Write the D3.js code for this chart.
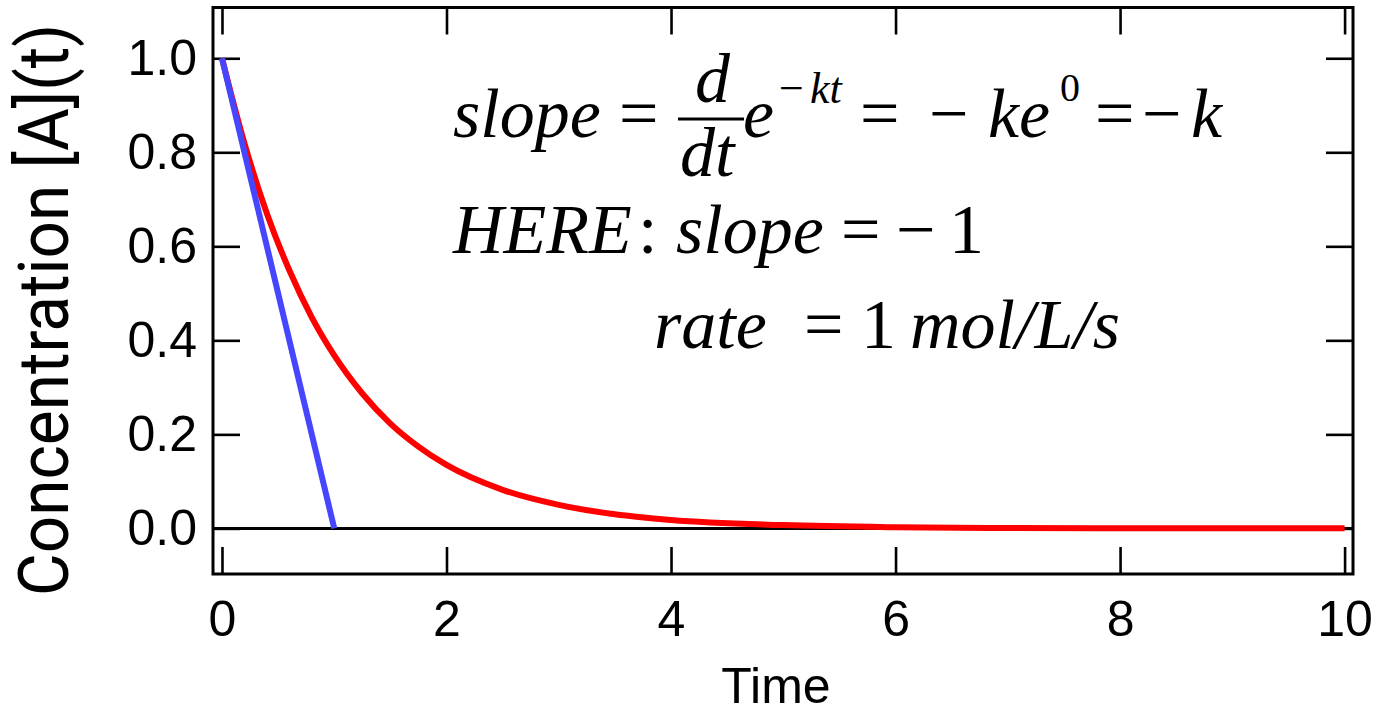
<!DOCTYPE html>
<html>

<head>
  <meta charset="utf-8">
  <script src="https://d3js.org/d3.v7.min.js"></script>
  <style>
    body {
      margin: 0;
      background: #fff;
    }

    .tick text {
      font: 50px "Liberation Sans", Arial, sans-serif;
      fill: #000;
    }

    .tick line {
      stroke: #000;
      stroke-width: 2.6px;
    }

    .eq {
      font-family: "Liberation Serif", "Times New Roman", serif;
      fill: #000;
    }
  </style>
</head>

<body>
  <div id="chart"></div>
  <script>
    // values
    var xTicks = [0, 2, 4, 6, 8, 10];
    var yTicks = [0, 0.2, 0.4, 0.6, 0.8, 1.0];

    var decayTime = [0, 0.2, 0.4, 0.6, 0.8, 1, 1.25, 1.5, 1.75, 2, 2.5, 3, 3.5, 4, 5, 6, 7, 8, 9, 10];
    var decayConc = [1, 0.819, 0.670, 0.549, 0.449, 0.368, 0.287, 0.223, 0.174, 0.135, 0.082, 0.050, 0.030, 0.018, 0.007, 0.0025, 0.0009, 0.0003, 0.0001, 0.00005];

    var tangentTime = [0, 1];
    var tangentConc = [1, 0];

    var width = 1375, height = 707;
    var plotLeft = 213, plotRight = 1353, plotTop = 7.5, plotBottom = 574;

    var svg = d3.select("#chart").append("svg")
      .attr("width", width)
      .attr("height", height);

    var x = d3.scaleLinear().domain([-0.08, 10.075]).range([plotLeft, plotRight]);
    var y = d3.scaleLinear().domain([-0.097, 1.108]).range([plotBottom, plotTop]);

    var tick = 27;

    // axes, ticks pointing inward on all four sides
    svg.append("g")
      .attr("transform", "translate(0," + plotBottom + ")")
      .call(d3.axisBottom(x).tickValues(xTicks).tickSize(-tick).tickSizeOuter(0).tickPadding(26).tickFormat(d3.format("d")))
      .call(g => g.select(".domain").remove());

    svg.append("g")
      .attr("transform", "translate(0," + plotTop + ")")
      .call(d3.axisTop(x).tickValues(xTicks).tickSize(-tick).tickSizeOuter(0).tickFormat(""))
      .call(g => g.select(".domain").remove());

    svg.append("g")
      .attr("transform", "translate(" + plotLeft + ",0)")
      .call(d3.axisLeft(y).tickValues(yTicks).tickSize(-tick).tickSizeOuter(0).tickPadding(16).tickFormat(d3.format(".1f")))
      .call(g => g.select(".domain").remove());

    svg.append("g")
      .attr("transform", "translate(" + plotRight + ",0)")
      .call(d3.axisRight(y).tickValues(yTicks).tickSize(-tick).tickSizeOuter(0).tickFormat(""))
      .call(g => g.select(".domain").remove());

    svg.selectAll(".tick text").attr("fill", "#000");

    // frame
    svg.append("rect")
      .attr("x", plotLeft)
      .attr("y", plotTop)
      .attr("width", plotRight - plotLeft)
      .attr("height", plotBottom - plotTop)
      .attr("fill", "none")
      .attr("stroke", "#000")
      .attr("stroke-width", 3);

    // zero line
    svg.append("line")
      .attr("x1", plotLeft)
      .attr("x2", plotRight)
      .attr("y1", y(0))
      .attr("y2", y(0))
      .attr("stroke", "#000")
      .attr("stroke-width", 3);

    // curves
    var line = d3.line()
      .x(d => x(d[0]))
      .y(d => y(d[1]));

    svg.append("path")
      .datum(d3.zip(decayTime, decayConc))
      .attr("d", line.curve(d3.curveMonotoneX))
      .attr("fill", "none")
      .attr("stroke", "#ff0000")
      .attr("stroke-width", 6);

    svg.append("path")
      .datum(d3.zip(tangentTime, tangentConc))
      .attr("d", line.curve(d3.curveLinear))
      .attr("fill", "none")
      .attr("stroke", "#4646ff")
      .attr("stroke-width", 6);

    // axis titles
    svg.append("text")
      .attr("x", 776)
      .attr("y", 703)
      .attr("text-anchor", "middle")
      .style("font", "50px 'Liberation Sans', Arial, sans-serif")
      .text("Time");

    svg.append("text")
      .attr("transform", "translate(68,310) rotate(-90)")
      .attr("text-anchor", "middle")
      .attr("textLength", 572)
      .attr("lengthAdjust", "spacingAndGlyphs")
      .style("font", "70px 'Liberation Sans Narrow', Roboto, sans-serif")
      .text("Concentration [A](t)");

    // equation annotation
    var eq = svg.append("g").attr("class", "eq");

    function put(str, px, py, size, italic) {
      eq.append("text")
        .attr("x", px)
        .attr("y", py)
        .style("font-size", size + "px")
        .style("font-style", italic ? "italic" : "normal")
        .text(str);
    }

    var fs = 70, sup = 44;

    // line 1
    put("slope", 453, 137, fs, true);
    put("=", 619, 137, fs, false);
    put("d", 695, 102, fs, true);
    put("dt", 680, 176, fs, true);
    eq.append("line")
      .attr("x1", 678).attr("x2", 744)
      .attr("y1", 119).attr("y2", 119)
      .attr("stroke", "#000").attr("stroke-width", 3);
    put("e", 743, 137, fs, true);
    put("\u2212", 779, 103, sup, false);
    put("kt", 810, 103, sup, true);
    put("=", 860, 137, fs, false);
    put("\u2212", 929, 137, fs, false);
    put("ke", 988, 137, fs, true);
    put("0", 1060, 101, 40, false);
    put("=", 1095, 137, fs, false);
    put("\u2212", 1142, 137, fs, false);
    put("k", 1191, 137, fs, true);

    // line 2
    put("HERE", 453, 253, fs, true);
    put(":", 638, 253, fs, false);
    put("slope", 676, 253, fs, true);
    put("=", 841, 253, fs, false);
    put("\u2212", 896, 253, fs, false);
    put("1", 949, 253, fs, false);

    // line 3
    put("rate", 654, 348, fs, true);
    put("=", 804, 348, fs, false);
    put("1", 861, 348, fs, false);
    put("mol/L/s", 910, 348, fs, true);
  </script>
</body>
</html>
